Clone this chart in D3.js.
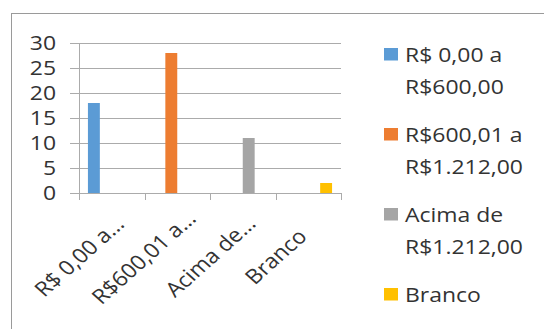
<!DOCTYPE html>
<html>
<head>
<meta charset="utf-8">
<script src="https://cdn.jsdelivr.net/npm/d3@7"></script>
<style>
  html, body { margin: 0; padding: 0; background: #fff; }
  svg { display: block; }
  text { font-family: "Open Sans", "DejaVu Sans", sans-serif; fill: #333; }
</style>
</head>
<body>
<svg id="chart" width="544" height="329"></svg>
<script>
// Faixas de renda (categorias) e rótulos do eixo, como aparecem truncados
const categories = ["R$ 0,00 a R$600,00", "R$600,01 a R$1.212,00", "Acima de R$1.212,00", "Branco"];
const tickLabels = ["R$ 0,00 a…", "R$600,01 a…", "Acima de…", "Branco"];

// Uma série por faixa; cada série só tem valor na sua própria categoria
const seriesNames = ["R$ 0,00 a R$600,00", "R$600,01 a R$1.212,00", "Acima de R$1.212,00", "Branco"];
const seriesValues = [
  [18, null, null, null],
  [null, 28, null, null],
  [null, null, 11, null],
  [null, null, null, 2]
];
const seriesColors = ["#5B9BD5", "#ED7D31", "#A5A5A5", "#FFC000"];

const yTicks = [0, 5, 10, 15, 20, 25, 30];

const W = 544, H = 329;
const plot = { left: 79, right: 341, top: 43, bottom: 193 };
const sx = 1.12;         // largura relativa do texto
const fontSize = 20.5;

const svg = d3.select("#chart");

// Moldura do gráfico
svg.append("rect")
  .attr("x", 11.5).attr("y", 13.5)
  .attr("width", W + 10).attr("height", H + 10)
  .attr("fill", "#fff").attr("stroke", "#9a9a9a").attr("stroke-width", 1);

const x = d3.scaleBand().domain(categories).range([plot.left, plot.right]).padding(0);
const xs = d3.scaleBand().domain(seriesNames).range([0, x.bandwidth()])
  .paddingInner(0).paddingOuter(0.75);
const y = d3.scaleLinear().domain([0, 30]).range([plot.bottom, plot.top]);

// Linhas de grade e marcas do eixo vertical
const grid = svg.append("g");
grid.selectAll("line").data(yTicks).join("line")
  .attr("x1", plot.left - 9).attr("x2", plot.right)
  .attr("y1", d => Math.round(y(d)) + 0.5).attr("y2", d => Math.round(y(d)) + 0.5)
  .attr("stroke", "#ababab").attr("stroke-width", 1);

// Eixo vertical
svg.append("line")
  .attr("x1", plot.left + 0.5).attr("x2", plot.left + 0.5)
  .attr("y1", y(30)).attr("y2", plot.bottom + 7)
  .attr("stroke", "#ababab");

// Marcas do eixo horizontal nos limites das categorias
const bounds = categories.map(c => x(c)).concat([plot.right]);
svg.append("g").selectAll("line").data(bounds).join("line")
  .attr("x1", d => Math.round(d) + 0.5).attr("x2", d => Math.round(d) + 0.5)
  .attr("y1", plot.bottom).attr("y2", plot.bottom + 7)
  .attr("stroke", "#ababab");

// Rótulos do eixo vertical
svg.append("g").selectAll("text").data(yTicks).join("text")
  .attr("transform", d => `translate(56,${y(d)}) scale(${sx},1)`)
  .attr("text-anchor", "end")
  .attr("dy", "0.36em")
  .style("font-size", fontSize + "px")
  .text(d => d);

// Barras
seriesNames.forEach((s, si) => {
  svg.append("g").selectAll("rect")
    .data(seriesValues[si].map((v, ci) => ({ v, c: categories[ci] })).filter(d => d.v != null))
    .join("rect")
    .attr("x", d => x(d.c) + xs(s))
    .attr("width", xs.bandwidth())
    .attr("y", d => y(d.v))
    .attr("height", d => y(0) - y(d.v))
    .attr("fill", seriesColors[si]);
});

// Rótulos das categorias, girados 45°
const boxLen = 118;
const lab = svg.append("g").selectAll("text").data(categories).join("text")
  .attr("text-anchor", "end")
  .style("font-size", fontSize + "px")
  .text((d, i) => tickLabels[i]);
lab.each(function (d) {
  const len = this.getComputedTextLength();
  const shift = Math.max(0, (boxLen - len) / 2);
  const cx = x(d) + x.bandwidth() / 2 + 20;
  const cy = plot.bottom + 27;
  d3.select(this).attr("transform",
    `translate(${cx},${cy}) scale(${sx},1) rotate(-45) translate(${-shift},0)`);
});

// Legenda
const legend = svg.append("g");
const lineH = 32, entryGap = 80;
seriesNames.forEach((s, i) => {
  const base = 61.5 + i * entryGap;
  const cut = s.lastIndexOf(" ");
  const lines = cut > 0 ? [s.slice(0, cut), s.slice(cut + 1)] : [s];
  legend.append("rect")
    .attr("x", 384).attr("y", base - 13.5)
    .attr("width", 14).attr("height", 12.5)
    .attr("fill", seriesColors[i]);
  lines.forEach((t, k) => {
    legend.append("text")
      .attr("transform", `translate(405,${base + k * lineH}) scale(${sx},1)`)
      .style("font-size", fontSize + "px")
      .text(t);
  });
});
</script>
</body>
</html>
